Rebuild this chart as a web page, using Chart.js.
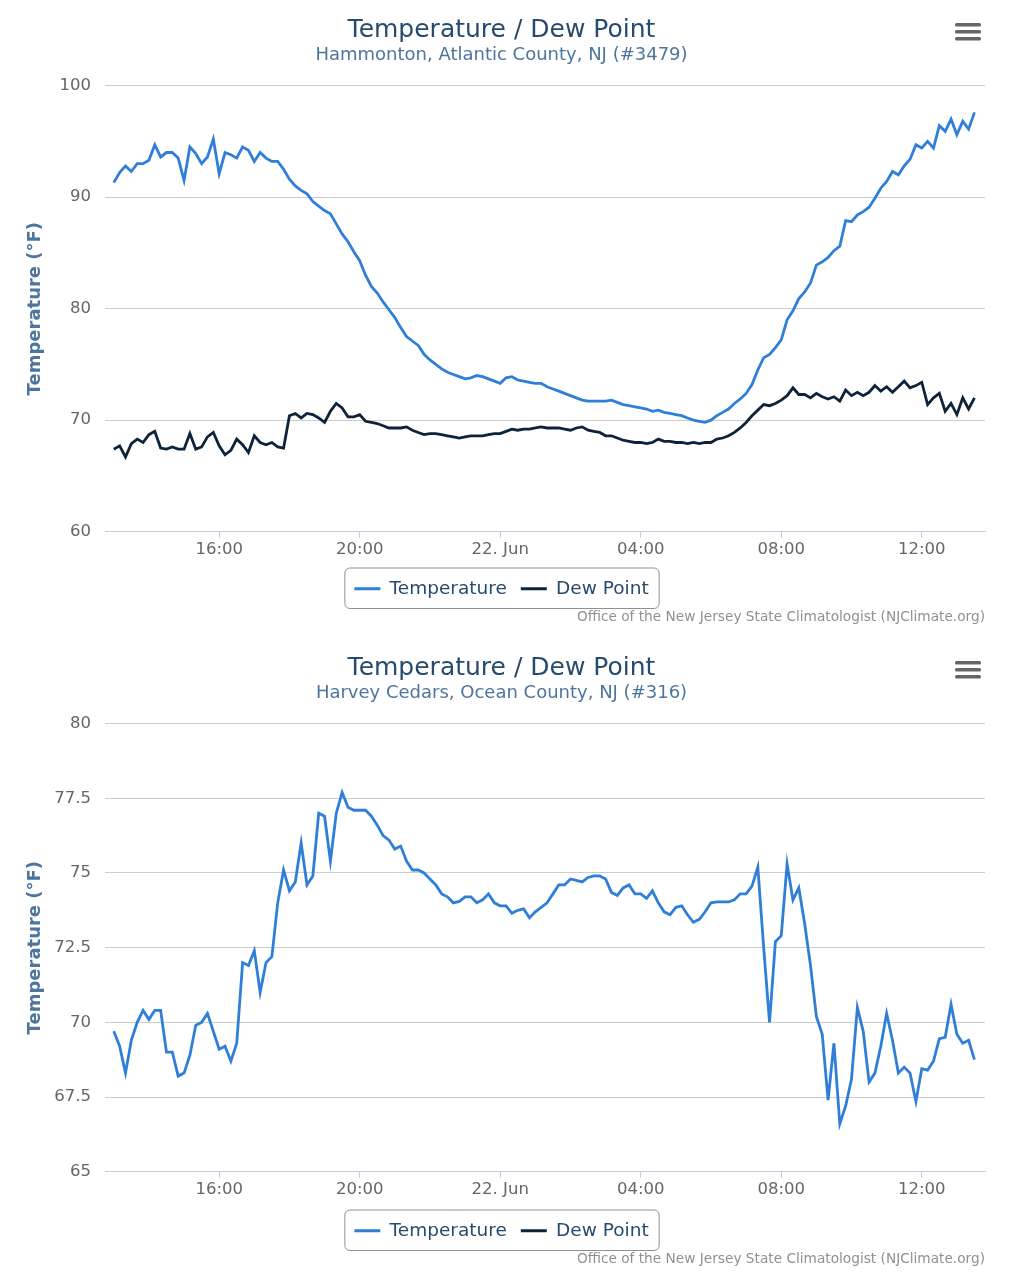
<!DOCTYPE html>
<html>
<head>
<meta charset="utf-8">
<script src="https://cdn.jsdelivr.net/npm/chart.js@4.4.1/dist/chart.umd.min.js"></script>
<style>
  body { margin: 0; background: #fff; }
  .box { position: relative; width: 1029px; }
  #top { height: 638px; }
  #bottom { height: 642px; }
</style>
</head>
<body>
<div class="box" id="top"><canvas id="chartTop"></canvas></div>
<div class="box" id="bottom"><canvas id="chartBottom"></canvas></div>
<script>
// Readings every 10 minutes, starting 21 Jun 13:00 (hours relative to 22 Jun 00:00)
const startHour = -11;
const stepHour = 1 / 6;

const xTickHours = [-8, -4, 0, 4, 8, 12];
const xTickLabels = ['16:00', '20:00', '22. Jun', '04:00', '08:00', '12:00'];

// Hammonton, Atlantic County (#3479)
const tempHammonton = [
    91.3, 92.2, 92.8, 92.3, 93.0, 93.0,
    93.3, 94.7, 93.6, 94.0, 94.0, 93.5,
    91.5, 94.5, 93.9, 93.0, 93.6, 95.2,
    92.1, 94.0, 93.8, 93.5, 94.5, 94.2,
    93.2, 94.0, 93.5, 93.2, 93.2, 92.5,
    91.6, 91.0, 90.6, 90.3, 89.6, 89.2,
    88.8, 88.5, 87.6, 86.7, 86.0, 85.1,
    84.3, 83.0, 82.0, 81.4, 80.6, 79.9,
    79.2, 78.3,
    77.5, 77.1, 76.7, 75.9,
    75.4, 75.0, 74.6, 74.3, 74.1, 73.9,
    73.7, 73.8, 74.0, 73.9, 73.7, 73.5,
    73.3, 73.8, 73.9, 73.6, 73.5, 73.4,
    73.3, 73.3, 73.0, 72.8, 72.6, 72.4,
    72.2, 72.0, 71.8, 71.7, 71.7, 71.7,
    71.7, 71.8, 71.6, 71.4, 71.3, 71.2,
    71.1, 71.0, 70.8, 70.9, 70.7, 70.6,
    70.5, 70.4, 70.2,
    70.0, 69.9, 69.8,
    70.0, 70.4, 70.7, 71.0, 71.5, 71.9,
    72.4, 73.2, 74.5, 75.6, 75.9, 76.5,
    77.2, 79.0, 79.8, 80.9, 81.5, 82.3,
    83.9, 84.2, 84.6, 85.2, 85.6, 87.9,
    87.8, 88.4, 88.7, 89.1, 89.9, 90.8,
    91.4, 92.3, 92.0, 92.8, 93.4, 94.7,
    94.4, 95.0, 94.4, 96.4, 95.9, 97.0,
    95.6, 96.8, 96.1, 97.6
];
const dewHammonton = [
    67.4, 67.7, 66.7, 67.9, 68.3, 68.0,
    68.7, 69.0, 67.5, 67.4, 67.6, 67.4,
    67.4, 68.8, 67.4, 67.6, 68.5, 68.9,
    67.7, 66.9, 67.3, 68.3, 67.8, 67.1,
    68.6, 68.0, 67.8, 68.0, 67.6, 67.5,
    70.4, 70.6, 70.2, 70.6, 70.5, 70.2,
    69.8, 70.8, 71.5, 71.1, 70.3, 70.3,
    70.5, 69.9, 69.8, 69.7, 69.5, 69.3,
    69.3, 69.3,
    69.4, 69.1, 68.9, 68.7,
    68.8, 68.8, 68.7, 68.6, 68.5, 68.4,
    68.5, 68.6, 68.6, 68.6, 68.7, 68.8,
    68.8, 69.0, 69.2, 69.1, 69.2, 69.2,
    69.3, 69.4, 69.3, 69.3, 69.3, 69.2,
    69.1, 69.3, 69.4, 69.1, 69.0, 68.9,
    68.6, 68.6, 68.4, 68.2, 68.1, 68.0,
    68.0, 67.9, 68.0, 68.3, 68.1, 68.1,
    68.0, 68.0, 67.9,
    68.0, 67.9, 68.0,
    68.0, 68.3, 68.4, 68.6, 68.9, 69.3,
    69.8, 70.4, 70.9, 71.4, 71.3, 71.5,
    71.8, 72.2, 72.9, 72.3, 72.3, 72.0,
    72.4, 72.1, 71.9, 72.1, 71.7, 72.7,
    72.2, 72.5, 72.2, 72.5, 73.1, 72.6,
    73.0, 72.5, 73.0, 73.5, 72.9, 73.1,
    73.4, 71.4, 72.0, 72.4, 70.8, 71.5,
    70.5, 72.0, 71.0, 72.0
];

// Harvey Cedars, Ocean County (#316) - no dew point readings
const tempHarvey = [
    69.7, 69.2, 68.3, 69.4, 70.0, 70.4,
    70.1, 70.4, 70.4, 69.0, 69.0, 68.2,
    68.3, 68.9, 69.9, 70.0, 70.3, 69.7,
    69.1, 69.2, 68.7, 69.3, 72.0, 71.9,
    72.4, 71.0, 72.0, 72.2, 74.0, 75.1,
    74.4, 74.7, 76.0, 74.6, 74.9, 77.0,
    76.9, 75.4, 77.0, 77.7, 77.2, 77.1,
    77.1, 77.1, 76.9, 76.6, 76.25, 76.1,
    75.8, 75.9,
    75.4, 75.1, 75.1, 75.0,
    74.8, 74.6, 74.3, 74.2, 74.0, 74.05,
    74.2, 74.2, 74.0, 74.1, 74.3, 74.0,
    73.9, 73.9, 73.65, 73.75, 73.8, 73.5,
    73.7, 73.85, 74.0, 74.3, 74.6, 74.6,
    74.8, 74.75, 74.7, 74.85, 74.9, 74.9,
    74.8, 74.35, 74.25, 74.5, 74.6, 74.3,
    74.3, 74.15, 74.4, 74.0, 73.7, 73.6,
    73.85, 73.9, 73.6,
    73.35, 73.45, 73.7,
    74.0, 74.03, 74.03, 74.03, 74.1, 74.3,
    74.3, 74.56, 75.2, 72.5, 70.0, 72.7,
    72.9, 75.3, 74.1, 74.5, 73.3, 71.9,
    70.2, 69.6, 67.4, 69.3, 66.6, 67.2,
    68.1, 70.5, 69.7, 68.0, 68.3, 69.2,
    70.3, 69.4, 68.3, 68.5, 68.3, 67.35,
    68.45, 68.4, 68.7, 69.45, 69.5, 70.6,
    69.6, 69.3, 69.4, 68.75
];
const dewHarvey = [];

const tempColor = '#2f7ed8';
const dewColor = '#0d233a';
const fontFamily = '"DejaVu Sans", sans-serif';

Chart.defaults.font.family = fontFamily;

function toPoints(vals) {
    return vals.map((v, i) => ({ x: startHour + i * stepHour, y: v }));
}

// hamburger menu, credits and the rounded legend frame
const extras = {
    id: 'extras',
    afterDraw(chart) {
        const ctx = chart.ctx;
        ctx.save();
        ctx.fillStyle = '#666';
        for (let i = 0; i < 3; i++) {
            ctx.beginPath();
            ctx.roundRect(chart.width - 74, 23 + i * 7, 26, 3.5, 1.5);
            ctx.fill();
        }
        ctx.fillStyle = '#909090';
        ctx.font = '13.7px ' + fontFamily;
        ctx.textAlign = 'right';
        ctx.textBaseline = 'middle';
        ctx.fillText('Office of the New Jersey State Climatologist (NJClimate.org)', chart.width - 44, chart.height - 21);

        const boxes = chart.legend.legendHitBoxes;
        if (boxes && boxes.length) {
            const left = Math.min(...boxes.map(b => b.left)) - 10;
            const right = Math.max(...boxes.map(b => b.left + b.width)) + 10;
            const top = boxes[0].top - 12;
            const bottom = boxes[0].top + boxes[0].height + 10;
            ctx.strokeStyle = '#909090';
            ctx.lineWidth = 1;
            ctx.beginPath();
            ctx.roundRect(left + 0.5, top + 0.5, right - left, bottom - top, 5);
            ctx.stroke();
        }
        ctx.restore();
    }
};

function makeChart(canvasId, subtitle, temps, dews, yMin, yMax, yStep, xExtra) {
    return new Chart(document.getElementById(canvasId), {
        type: 'line',
        data: {
            datasets: [{
                label: 'Temperature',
                data: toPoints(temps),
                borderColor: tempColor,
                backgroundColor: tempColor,
                borderWidth: 2.8,
                pointRadius: 0,
                tension: 0
            }, {
                label: 'Dew Point',
                data: toPoints(dews),
                borderColor: dewColor,
                backgroundColor: dewColor,
                borderWidth: 2.8,
                pointRadius: 0,
                tension: 0
            }]
        },
        options: {
            responsive: true,
            maintainAspectRatio: false,
            animation: false,
            layout: { padding: { left: 18, right: 44, top: 0, bottom: 30 } },
            plugins: {
                title: {
                    display: true,
                    text: 'Temperature / Dew Point',
                    color: '#274b6d',
                    font: { size: 25, weight: 'normal' },
                    padding: { top: 15, bottom: 0 }
                },
                subtitle: {
                    display: true,
                    text: subtitle,
                    color: '#4d759e',
                    font: { size: 18, weight: 'normal' },
                    padding: { bottom: 19 }
                },
                legend: {
                    position: 'bottom',
                    labels: {
                        color: '#274b6d',
                        font: { size: 18.5 },
                        boxWidth: 26,
                        boxHeight: 3,
                        padding: 14,
                        generateLabels(chart) {
                            return Chart.defaults.plugins.legend.labels.generateLabels(chart)
                                .map(item => Object.assign(item, { lineWidth: 0 }));
                        }
                    }
                },
                tooltip: { enabled: false }
            },
            scales: {
                x: {
                    type: 'linear',
                    min: -11.25,
                    max: 13.8,
                    afterBuildTicks(scale) {
                        scale.ticks = xTickHours.map(v => ({ value: v }));
                    },
                    afterFit(scale) {
                        scale.height += xExtra;
                    },
                    ticks: {
                        color: '#666',
                        font: { size: 16.5 },
                        padding: 2,
                        maxRotation: 0,
                        callback: value => xTickLabels[xTickHours.indexOf(value)]
                    },
                    grid: { drawOnChartArea: false, color: '#c0d0e0', tickLength: 6 },
                    border: { display: true, color: '#c0d0e0' }
                },
                y: {
                    min: yMin,
                    max: yMax,
                    afterFit(scale) {
                        scale.width = 87;
                    },
                    ticks: { stepSize: yStep, color: '#666', font: { size: 16.5 }, padding: 14 },
                    grid: { color: '#cccccc', drawTicks: false },
                    border: { display: false },
                    title: {
                        display: true,
                        text: 'Temperature (°F)',
                        color: '#4d759e',
                        font: { size: 18, weight: 'bold' },
                        padding: { top: 7, bottom: 4 }
                    }
                }
            }
        },
        plugins: [extras]
    });
}

makeChart('chartTop', 'Hammonton, Atlantic County, NJ (#3479)', tempHammonton, dewHammonton, 60, 100, 10, 4);
makeChart('chartBottom', 'Harvey Cedars, Ocean County, NJ (#316)', tempHarvey, dewHarvey, 65, 80, 2.5, 6);
</script>
</body>
</html>
